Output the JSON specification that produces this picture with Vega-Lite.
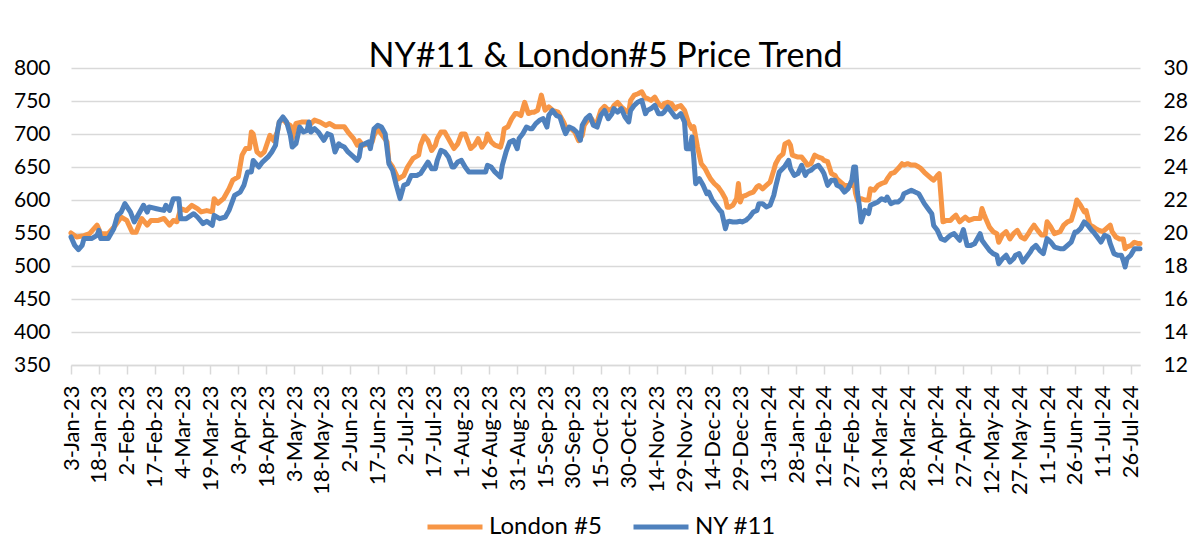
{
"$schema":"https://vega.github.io/schema/vega-lite/v6.json",
"width":1069,"height":297,
"autosize":{"type":"none"},
"padding":{"left":71,"top":68,"right":58,"bottom":174},
"background":"#ffffff",
"config":{"view":{"stroke":null},"font":"Lato"},
"title":{"text":"NY#11 & London#5 Price Trend","font":"Lato","fontSize":34,"fontWeight":"normal","color":"#000000","anchor":"middle","baseline":"alphabetic","offset":2,"dy":46},
"datasets":{
"london":[
{"date":"2023-01-03","price":550},{"date":"2023-01-06","price":544},{"date":"2023-01-10","price":546},{"date":"2023-01-13","price":549},{"date":"2023-01-17","price":562},{"date":"2023-01-19","price":549},{"date":"2023-01-23","price":549},{"date":"2023-01-27","price":562},{"date":"2023-01-30","price":574},{"date":"2023-02-02","price":569},{"date":"2023-02-05","price":551},{"date":"2023-02-07","price":551},{"date":"2023-02-10","price":572},{"date":"2023-02-13","price":562},{"date":"2023-02-15","price":569},{"date":"2023-02-19","price":569},{"date":"2023-02-22","price":572},{"date":"2023-02-25","price":562},{"date":"2023-02-27","price":569},{"date":"2023-03-01","price":567},{"date":"2023-03-03","price":587},{"date":"2023-03-06","price":584},{"date":"2023-03-09","price":592},{"date":"2023-03-12","price":587},{"date":"2023-03-14","price":582},{"date":"2023-03-17","price":584},{"date":"2023-03-20","price":582},{"date":"2023-03-21","price":602},{"date":"2023-03-23","price":595},{"date":"2023-03-26","price":602},{"date":"2023-03-29","price":617},{"date":"2023-03-31","price":630},{"date":"2023-04-03","price":635},{"date":"2023-04-05","price":668},{"date":"2023-04-07","price":678},{"date":"2023-04-09","price":678},{"date":"2023-04-10","price":703},{"date":"2023-04-11","price":700},{"date":"2023-04-13","price":673},{"date":"2023-04-15","price":668},{"date":"2023-04-17","price":673},{"date":"2023-04-20","price":698},{"date":"2023-04-22","price":690},{"date":"2023-04-24","price":703},{"date":"2023-04-25","price":718},{"date":"2023-04-27","price":723},{"date":"2023-04-29","price":716},{"date":"2023-05-01","price":713},{"date":"2023-05-02","price":693},{"date":"2023-05-04","price":716},{"date":"2023-05-07","price":718},{"date":"2023-05-10","price":718},{"date":"2023-05-11","price":713},{"date":"2023-05-14","price":721},{"date":"2023-05-17","price":718},{"date":"2023-05-20","price":713},{"date":"2023-05-22","price":716},{"date":"2023-05-25","price":711},{"date":"2023-05-28","price":711},{"date":"2023-05-30","price":711},{"date":"2023-06-01","price":703},{"date":"2023-06-04","price":693},{"date":"2023-06-06","price":683},{"date":"2023-06-07","price":690},{"date":"2023-06-09","price":683},{"date":"2023-06-12","price":685},{"date":"2023-06-14","price":688},{"date":"2023-06-15","price":698},{"date":"2023-06-17","price":708},{"date":"2023-06-19","price":700},{"date":"2023-06-22","price":688},{"date":"2023-06-23","price":658},{"date":"2023-06-25","price":650},{"date":"2023-06-28","price":632},{"date":"2023-07-01","price":637},{"date":"2023-07-03","price":650},{"date":"2023-07-06","price":663},{"date":"2023-07-09","price":668},{"date":"2023-07-10","price":683},{"date":"2023-07-12","price":697},{"date":"2023-07-14","price":690},{"date":"2023-07-16","price":675},{"date":"2023-07-18","price":683},{"date":"2023-07-19","price":693},{"date":"2023-07-21","price":703},{"date":"2023-07-23","price":703},{"date":"2023-07-25","price":693},{"date":"2023-07-27","price":683},{"date":"2023-07-28","price":678},{"date":"2023-07-30","price":685},{"date":"2023-08-01","price":700},{"date":"2023-08-03","price":700},{"date":"2023-08-05","price":685},{"date":"2023-08-06","price":678},{"date":"2023-08-08","price":683},{"date":"2023-08-10","price":693},{"date":"2023-08-12","price":680},{"date":"2023-08-14","price":688},{"date":"2023-08-15","price":700},{"date":"2023-08-17","price":688},{"date":"2023-08-19","price":683},{"date":"2023-08-22","price":680},{"date":"2023-08-23","price":690},{"date":"2023-08-24","price":708},{"date":"2023-08-26","price":711},{"date":"2023-08-28","price":723},{"date":"2023-08-30","price":731},{"date":"2023-08-31","price":731},{"date":"2023-09-02","price":728},{"date":"2023-09-04","price":748},{"date":"2023-09-06","price":731},{"date":"2023-09-08","price":733},{"date":"2023-09-09","price":733},{"date":"2023-09-11","price":736},{"date":"2023-09-13","price":759},{"date":"2023-09-15","price":736},{"date":"2023-09-17","price":741},{"date":"2023-09-19","price":736},{"date":"2023-09-22","price":733},{"date":"2023-09-25","price":718},{"date":"2023-09-26","price":711},{"date":"2023-09-29","price":708},{"date":"2023-10-01","price":703},{"date":"2023-10-03","price":690},{"date":"2023-10-05","price":698},{"date":"2023-10-06","price":713},{"date":"2023-10-08","price":721},{"date":"2023-10-10","price":723},{"date":"2023-10-12","price":713},{"date":"2023-10-13","price":718},{"date":"2023-10-15","price":736},{"date":"2023-10-17","price":742},{"date":"2023-10-19","price":736},{"date":"2023-10-21","price":738},{"date":"2023-10-22","price":743},{"date":"2023-10-24","price":748},{"date":"2023-10-26","price":741},{"date":"2023-10-28","price":736},{"date":"2023-10-30","price":733},{"date":"2023-10-31","price":751},{"date":"2023-11-02","price":759},{"date":"2023-11-04","price":761},{"date":"2023-11-06","price":764},{"date":"2023-11-08","price":754},{"date":"2023-11-09","price":754},{"date":"2023-11-11","price":751},{"date":"2023-11-13","price":756},{"date":"2023-11-15","price":746},{"date":"2023-11-17","price":741},{"date":"2023-11-18","price":746},{"date":"2023-11-20","price":748},{"date":"2023-11-22","price":746},{"date":"2023-11-24","price":738},{"date":"2023-11-25","price":741},{"date":"2023-11-27","price":743},{"date":"2023-11-29","price":736},{"date":"2023-12-01","price":718},{"date":"2023-12-03","price":708},{"date":"2023-12-04","price":711},{"date":"2023-12-06","price":680},{"date":"2023-12-08","price":655},{"date":"2023-12-10","price":648},{"date":"2023-12-12","price":637},{"date":"2023-12-13","price":632},{"date":"2023-12-15","price":625},{"date":"2023-12-17","price":620},{"date":"2023-12-19","price":612},{"date":"2023-12-21","price":602},{"date":"2023-12-22","price":589},{"date":"2023-12-23","price":589},{"date":"2023-12-25","price":592},{"date":"2023-12-27","price":602},{"date":"2023-12-28","price":625},{"date":"2023-12-29","price":597},{"date":"2023-12-30","price":605},{"date":"2024-01-01","price":607},{"date":"2024-01-03","price":610},{"date":"2024-01-05","price":612},{"date":"2024-01-07","price":620},{"date":"2024-01-08","price":622},{"date":"2024-01-10","price":617},{"date":"2024-01-12","price":622},{"date":"2024-01-14","price":627},{"date":"2024-01-16","price":645},{"date":"2024-01-17","price":655},{"date":"2024-01-19","price":665},{"date":"2024-01-21","price":670},{"date":"2024-01-22","price":685},{"date":"2024-01-24","price":688},{"date":"2024-01-25","price":683},{"date":"2024-01-26","price":668},{"date":"2024-01-29","price":665},{"date":"2024-01-31","price":665},{"date":"2024-02-02","price":658},{"date":"2024-02-03","price":653},{"date":"2024-02-05","price":655},{"date":"2024-02-07","price":668},{"date":"2024-02-09","price":665},{"date":"2024-02-11","price":663},{"date":"2024-02-12","price":660},{"date":"2024-02-14","price":658},{"date":"2024-02-16","price":640},{"date":"2024-02-18","price":637},{"date":"2024-02-19","price":632},{"date":"2024-02-21","price":627},{"date":"2024-02-23","price":622},{"date":"2024-02-25","price":622},{"date":"2024-02-27","price":622},{"date":"2024-02-28","price":630},{"date":"2024-02-29","price":610},{"date":"2024-03-01","price":600},{"date":"2024-03-03","price":602},{"date":"2024-03-05","price":600},{"date":"2024-03-07","price":600},{"date":"2024-03-08","price":617},{"date":"2024-03-10","price":615},{"date":"2024-03-12","price":622},{"date":"2024-03-14","price":625},{"date":"2024-03-16","price":627},{"date":"2024-03-17","price":632},{"date":"2024-03-19","price":640},{"date":"2024-03-21","price":642},{"date":"2024-03-23","price":648},{"date":"2024-03-25","price":655},{"date":"2024-03-26","price":653},{"date":"2024-03-28","price":655},{"date":"2024-03-30","price":653},{"date":"2024-04-01","price":653},{"date":"2024-04-03","price":650},{"date":"2024-04-04","price":648},{"date":"2024-04-06","price":642},{"date":"2024-04-08","price":637},{"date":"2024-04-10","price":632},{"date":"2024-04-11","price":630},{"date":"2024-04-13","price":637},{"date":"2024-04-14","price":640},{"date":"2024-04-16","price":567},{"date":"2024-04-18","price":569},{"date":"2024-04-20","price":569},{"date":"2024-04-21","price":572},{"date":"2024-04-23","price":577},{"date":"2024-04-25","price":567},{"date":"2024-04-28","price":574},{"date":"2024-04-30","price":569},{"date":"2024-05-03","price":572},{"date":"2024-05-06","price":572},{"date":"2024-05-07","price":587},{"date":"2024-05-08","price":579},{"date":"2024-05-09","price":572},{"date":"2024-05-11","price":559},{"date":"2024-05-13","price":552},{"date":"2024-05-15","price":549},{"date":"2024-05-16","price":536},{"date":"2024-05-18","price":547},{"date":"2024-05-20","price":552},{"date":"2024-05-22","price":541},{"date":"2024-05-24","price":549},{"date":"2024-05-26","price":554},{"date":"2024-05-28","price":544},{"date":"2024-05-30","price":541},{"date":"2024-06-01","price":549},{"date":"2024-06-02","price":554},{"date":"2024-06-04","price":562},{"date":"2024-06-06","price":554},{"date":"2024-06-08","price":547},{"date":"2024-06-10","price":547},{"date":"2024-06-11","price":567},{"date":"2024-06-13","price":559},{"date":"2024-06-15","price":549},{"date":"2024-06-18","price":552},{"date":"2024-06-20","price":562},{"date":"2024-06-22","price":567},{"date":"2024-06-24","price":569},{"date":"2024-06-26","price":587},{"date":"2024-06-27","price":600},{"date":"2024-06-29","price":592},{"date":"2024-07-01","price":582},{"date":"2024-07-02","price":584},{"date":"2024-07-04","price":562},{"date":"2024-07-06","price":559},{"date":"2024-07-07","price":557},{"date":"2024-07-09","price":554},{"date":"2024-07-11","price":552},{"date":"2024-07-13","price":557},{"date":"2024-07-15","price":562},{"date":"2024-07-16","price":552},{"date":"2024-07-18","price":544},{"date":"2024-07-20","price":541},{"date":"2024-07-22","price":541},{"date":"2024-07-23","price":526},{"date":"2024-07-24","price":529},{"date":"2024-07-26","price":531},{"date":"2024-07-28","price":536},{"date":"2024-07-30","price":534},{"date":"2024-07-31","price":534}
],
"ny":[
{"date":"2023-01-03","price":19.76},{"date":"2023-01-05","price":19.25},{"date":"2023-01-07","price":18.99},{"date":"2023-01-09","price":19.25},{"date":"2023-01-10","price":19.66},{"date":"2023-01-14","price":19.66},{"date":"2023-01-17","price":19.86},{"date":"2023-01-18","price":20.16},{"date":"2023-01-19","price":19.66},{"date":"2023-01-23","price":19.66},{"date":"2023-01-26","price":20.26},{"date":"2023-01-28","price":21.07},{"date":"2023-01-30","price":21.27},{"date":"2023-02-01","price":21.78},{"date":"2023-02-04","price":21.27},{"date":"2023-02-06","price":20.67},{"date":"2023-02-09","price":21.27},{"date":"2023-02-11","price":21.68},{"date":"2023-02-13","price":21.27},{"date":"2023-02-14","price":21.58},{"date":"2023-02-18","price":21.47},{"date":"2023-02-22","price":21.37},{"date":"2023-02-23","price":21.68},{"date":"2023-02-25","price":21.37},{"date":"2023-02-27","price":22.08},{"date":"2023-03-02","price":22.08},{"date":"2023-03-03","price":20.87},{"date":"2023-03-06","price":20.87},{"date":"2023-03-10","price":21.17},{"date":"2023-03-12","price":20.97},{"date":"2023-03-15","price":20.57},{"date":"2023-03-17","price":20.71},{"date":"2023-03-20","price":20.47},{"date":"2023-03-21","price":21.07},{"date":"2023-03-24","price":20.87},{"date":"2023-03-27","price":20.97},{"date":"2023-03-29","price":21.37},{"date":"2023-04-01","price":22.28},{"date":"2023-04-04","price":22.48},{"date":"2023-04-06","price":22.89},{"date":"2023-04-08","price":23.7},{"date":"2023-04-10","price":23.7},{"date":"2023-04-11","price":24.4},{"date":"2023-04-14","price":24.0},{"date":"2023-04-16","price":24.3},{"date":"2023-04-19","price":24.61},{"date":"2023-04-21","price":24.91},{"date":"2023-04-23","price":25.31},{"date":"2023-04-24","price":26.12},{"date":"2023-04-25","price":26.73},{"date":"2023-04-27","price":27.03},{"date":"2023-04-29","price":26.73},{"date":"2023-05-01","price":25.92},{"date":"2023-05-02","price":25.21},{"date":"2023-05-04","price":25.41},{"date":"2023-05-06","price":26.42},{"date":"2023-05-08","price":26.12},{"date":"2023-05-10","price":26.22},{"date":"2023-05-11","price":26.73},{"date":"2023-05-12","price":26.12},{"date":"2023-05-14","price":26.32},{"date":"2023-05-16","price":26.12},{"date":"2023-05-19","price":25.62},{"date":"2023-05-21","price":26.02},{"date":"2023-05-23","price":25.92},{"date":"2023-05-25","price":24.91},{"date":"2023-05-27","price":25.41},{"date":"2023-05-28","price":25.31},{"date":"2023-05-30","price":25.21},{"date":"2023-06-01","price":24.91},{"date":"2023-06-04","price":24.61},{"date":"2023-06-06","price":24.4},{"date":"2023-06-07","price":24.61},{"date":"2023-06-08","price":25.31},{"date":"2023-06-10","price":25.41},{"date":"2023-06-12","price":25.52},{"date":"2023-06-13","price":25.11},{"date":"2023-06-15","price":26.32},{"date":"2023-06-17","price":26.53},{"date":"2023-06-19","price":26.42},{"date":"2023-06-21","price":26.02},{"date":"2023-06-23","price":24.2},{"date":"2023-06-25","price":23.8},{"date":"2023-06-27","price":22.89},{"date":"2023-06-29","price":22.08},{"date":"2023-07-01","price":22.89},{"date":"2023-07-03","price":22.99},{"date":"2023-07-05","price":23.49},{"date":"2023-07-08","price":23.49},{"date":"2023-07-10","price":23.6},{"date":"2023-07-12","price":23.95},{"date":"2023-07-14","price":24.3},{"date":"2023-07-16","price":23.9},{"date":"2023-07-18","price":23.9},{"date":"2023-07-19","price":24.4},{"date":"2023-07-21","price":25.01},{"date":"2023-07-23","price":24.91},{"date":"2023-07-25","price":24.61},{"date":"2023-07-27","price":24.0},{"date":"2023-07-28","price":24.0},{"date":"2023-07-30","price":24.3},{"date":"2023-08-01","price":24.4},{"date":"2023-08-03","price":24.0},{"date":"2023-08-05","price":23.7},{"date":"2023-08-08","price":23.7},{"date":"2023-08-12","price":23.7},{"date":"2023-08-14","price":23.7},{"date":"2023-08-15","price":24.1},{"date":"2023-08-17","price":24.0},{"date":"2023-08-19","price":23.7},{"date":"2023-08-22","price":23.39},{"date":"2023-08-23","price":24.1},{"date":"2023-08-25","price":24.91},{"date":"2023-08-27","price":25.52},{"date":"2023-08-29","price":25.62},{"date":"2023-08-31","price":25.11},{"date":"2023-09-01","price":25.72},{"date":"2023-09-03","price":26.02},{"date":"2023-09-05","price":26.42},{"date":"2023-09-07","price":26.32},{"date":"2023-09-08","price":26.32},{"date":"2023-09-10","price":26.63},{"date":"2023-09-12","price":26.83},{"date":"2023-09-14","price":26.93},{"date":"2023-09-16","price":26.42},{"date":"2023-09-17","price":27.13},{"date":"2023-09-19","price":27.43},{"date":"2023-09-21","price":27.13},{"date":"2023-09-23","price":27.03},{"date":"2023-09-25","price":26.32},{"date":"2023-09-26","price":26.02},{"date":"2023-09-28","price":26.42},{"date":"2023-09-30","price":26.32},{"date":"2023-10-02","price":26.12},{"date":"2023-10-04","price":25.62},{"date":"2023-10-05","price":26.53},{"date":"2023-10-07","price":26.93},{"date":"2023-10-09","price":27.13},{"date":"2023-10-11","price":26.53},{"date":"2023-10-13","price":26.42},{"date":"2023-10-15","price":27.13},{"date":"2023-10-17","price":27.43},{"date":"2023-10-19","price":26.93},{"date":"2023-10-21","price":27.23},{"date":"2023-10-22","price":27.54},{"date":"2023-10-24","price":27.33},{"date":"2023-10-26","price":27.54},{"date":"2023-10-28","price":27.03},{"date":"2023-10-30","price":26.73},{"date":"2023-10-31","price":27.43},{"date":"2023-11-02","price":27.74},{"date":"2023-11-04","price":27.94},{"date":"2023-11-06","price":28.04},{"date":"2023-11-08","price":27.23},{"date":"2023-11-09","price":27.43},{"date":"2023-11-11","price":27.54},{"date":"2023-11-13","price":27.74},{"date":"2023-11-15","price":27.23},{"date":"2023-11-17","price":27.23},{"date":"2023-11-18","price":27.33},{"date":"2023-11-20","price":27.64},{"date":"2023-11-22","price":27.33},{"date":"2023-11-24","price":27.03},{"date":"2023-11-25","price":27.03},{"date":"2023-11-27","price":27.23},{"date":"2023-11-29","price":26.73},{"date":"2023-11-30","price":25.11},{"date":"2023-12-02","price":25.11},{"date":"2023-12-03","price":25.82},{"date":"2023-12-04","price":24.51},{"date":"2023-12-05","price":22.99},{"date":"2023-12-07","price":23.29},{"date":"2023-12-09","price":22.89},{"date":"2023-12-11","price":22.38},{"date":"2023-12-12","price":22.48},{"date":"2023-12-14","price":21.98},{"date":"2023-12-16","price":21.68},{"date":"2023-12-18","price":21.37},{"date":"2023-12-19","price":21.27},{"date":"2023-12-21","price":20.26},{"date":"2023-12-22","price":20.67},{"date":"2023-12-23","price":20.71},{"date":"2023-12-25","price":20.67},{"date":"2023-12-27","price":20.67},{"date":"2023-12-29","price":20.71},{"date":"2023-12-30","price":20.67},{"date":"2024-01-01","price":20.77},{"date":"2024-01-03","price":20.97},{"date":"2024-01-05","price":21.27},{"date":"2024-01-07","price":21.37},{"date":"2024-01-08","price":21.78},{"date":"2024-01-10","price":21.78},{"date":"2024-01-12","price":21.58},{"date":"2024-01-14","price":21.68},{"date":"2024-01-16","price":22.28},{"date":"2024-01-17","price":22.79},{"date":"2024-01-19","price":23.7},{"date":"2024-01-22","price":24.05},{"date":"2024-01-24","price":24.4},{"date":"2024-01-25","price":23.9},{"date":"2024-01-27","price":23.49},{"date":"2024-01-29","price":23.6},{"date":"2024-01-31","price":24.1},{"date":"2024-02-02","price":23.49},{"date":"2024-02-03","price":23.7},{"date":"2024-02-05","price":23.8},{"date":"2024-02-07","price":24.0},{"date":"2024-02-09","price":24.1},{"date":"2024-02-11","price":23.8},{"date":"2024-02-12","price":23.6},{"date":"2024-02-14","price":22.89},{"date":"2024-02-16","price":23.19},{"date":"2024-02-18","price":23.19},{"date":"2024-02-19","price":22.89},{"date":"2024-02-21","price":22.79},{"date":"2024-02-23","price":22.48},{"date":"2024-02-25","price":22.69},{"date":"2024-02-27","price":23.19},{"date":"2024-02-28","price":24.0},{"date":"2024-02-29","price":24.0},{"date":"2024-03-01","price":22.48},{"date":"2024-03-02","price":21.68},{"date":"2024-03-03","price":20.67},{"date":"2024-03-05","price":21.37},{"date":"2024-03-07","price":21.17},{"date":"2024-03-08","price":21.68},{"date":"2024-03-10","price":21.78},{"date":"2024-03-12","price":21.88},{"date":"2024-03-14","price":22.08},{"date":"2024-03-16","price":21.98},{"date":"2024-03-17","price":22.18},{"date":"2024-03-19","price":21.78},{"date":"2024-03-21","price":21.88},{"date":"2024-03-23","price":21.88},{"date":"2024-03-25","price":22.08},{"date":"2024-03-26","price":22.38},{"date":"2024-03-28","price":22.48},{"date":"2024-03-30","price":22.59},{"date":"2024-04-01","price":22.48},{"date":"2024-04-03","price":22.38},{"date":"2024-04-04","price":22.18},{"date":"2024-04-06","price":21.78},{"date":"2024-04-08","price":21.47},{"date":"2024-04-10","price":21.17},{"date":"2024-04-11","price":20.46},{"date":"2024-04-13","price":20.16},{"date":"2024-04-15","price":19.66},{"date":"2024-04-17","price":19.56},{"date":"2024-04-19","price":19.76},{"date":"2024-04-20","price":19.86},{"date":"2024-04-22","price":19.96},{"date":"2024-04-25","price":19.56},{"date":"2024-04-27","price":20.21},{"date":"2024-04-29","price":19.25},{"date":"2024-05-01","price":19.25},{"date":"2024-05-03","price":19.35},{"date":"2024-05-06","price":19.96},{"date":"2024-05-07","price":19.56},{"date":"2024-05-09","price":19.25},{"date":"2024-05-11","price":18.95},{"date":"2024-05-13","price":18.75},{"date":"2024-05-15","price":18.65},{"date":"2024-05-16","price":18.14},{"date":"2024-05-18","price":18.44},{"date":"2024-05-20","price":18.65},{"date":"2024-05-22","price":18.24},{"date":"2024-05-24","price":18.44},{"date":"2024-05-25","price":18.65},{"date":"2024-05-27","price":18.75},{"date":"2024-05-29","price":18.24},{"date":"2024-05-31","price":18.55},{"date":"2024-06-02","price":18.85},{"date":"2024-06-03","price":19.05},{"date":"2024-06-05","price":19.25},{"date":"2024-06-07","price":18.95},{"date":"2024-06-09","price":18.75},{"date":"2024-06-11","price":19.66},{"date":"2024-06-13","price":19.45},{"date":"2024-06-15","price":19.15},{"date":"2024-06-18","price":19.05},{"date":"2024-06-20","price":19.05},{"date":"2024-06-22","price":19.25},{"date":"2024-06-24","price":19.45},{"date":"2024-06-26","price":20.06},{"date":"2024-06-27","price":20.06},{"date":"2024-06-29","price":20.26},{"date":"2024-07-01","price":20.67},{"date":"2024-07-03","price":20.46},{"date":"2024-07-05","price":20.16},{"date":"2024-07-06","price":20.06},{"date":"2024-07-08","price":19.76},{"date":"2024-07-10","price":19.45},{"date":"2024-07-12","price":19.86},{"date":"2024-07-14","price":19.76},{"date":"2024-07-15","price":19.35},{"date":"2024-07-17","price":18.75},{"date":"2024-07-19","price":18.65},{"date":"2024-07-21","price":18.65},{"date":"2024-07-22","price":18.34},{"date":"2024-07-23","price":17.94},{"date":"2024-07-24","price":18.44},{"date":"2024-07-26","price":18.65},{"date":"2024-07-28","price":19.05},{"date":"2024-07-30","price":19.05},{"date":"2024-07-31","price":19.05}
]},
"layer":[
{"data":{"name":"london"},
 "mark":{"type":"line","strokeWidth":5,"strokeJoin":"round","strokeCap":"round"},
 "encoding":{
  "x":{"field":"date","type":"temporal","scale":{"type":"utc","domain":[1672704000000,1722384000000]},
   "axis":{"title":null,"format":"%-d-%b-%y","labelAngle":270,"labelFont":"Lato","labelFontSize":22,"labelColor":"#000000","grid":false,"domainColor":"#d9d9d9","domainWidth":1.5,"tickColor":"#d9d9d9","tickWidth":1.5,"tickSize":9,"labelPadding":11,"labelOverlap":false,"labelFlush":false,"tickCount":100,
    "values":[1672704000000,1674000000000,1675296000000,1676592000000,1677888000000,1679184000000,1680480000000,1681776000000,1683072000000,1684368000000,1685664000000,1686960000000,1688256000000,1689552000000,1690848000000,1692144000000,1693440000000,1694736000000,1696032000000,1697328000000,1698624000000,1699920000000,1701216000000,1702512000000,1703808000000,1705104000000,1706400000000,1707696000000,1708992000000,1710288000000,1711584000000,1712880000000,1714176000000,1715472000000,1716768000000,1718064000000,1719360000000,1720656000000,1721952000000]}},
  "y":{"field":"price","type":"quantitative","scale":{"domain":[350,800],"nice":false,"zero":false},
   "axis":{"orient":"left","title":null,"values":[350,400,450,500,550,600,650,700,750,800],"grid":true,"gridColor":"#d9d9d9","gridWidth":1.5,"domain":false,"ticks":false,"labelFont":"Lato","labelFontSize":21,"labelColor":"#000000","labelPadding":21}},
  "color":{"datum":"London #5","type":"nominal","scale":{"domain":["London #5","NY #11"],"range":["#F79646","#4F81BD"]},
   "legend":{"orient":"none","legendX":354,"legendY":429,"direction":"horizontal","title":null,"symbolType":"stroke","symbolSize":3025,"symbolStrokeWidth":5,"labelFont":"Lato","labelFontSize":24,"labelColor":"#000000","columnPadding":21,"labelOffset":4}}
 }},
{"data":{"name":"ny"},
 "mark":{"type":"line","strokeWidth":5,"strokeJoin":"round","strokeCap":"round"},
 "encoding":{
  "x":{"field":"date","type":"temporal"},
  "y":{"field":"price","type":"quantitative","scale":{"domain":[12,30],"nice":false,"zero":false},
   "axis":{"orient":"right","title":null,"values":[12,14,16,18,20,22,24,26,28,30],"grid":false,"domain":false,"ticks":false,"labelFont":"Lato","labelFontSize":21,"labelColor":"#000000","labelPadding":23}},
  "color":{"datum":"NY #11","type":"nominal"}
 }}
],
"resolve":{"scale":{"y":"independent"},"axis":{"y":"independent"}}
}
